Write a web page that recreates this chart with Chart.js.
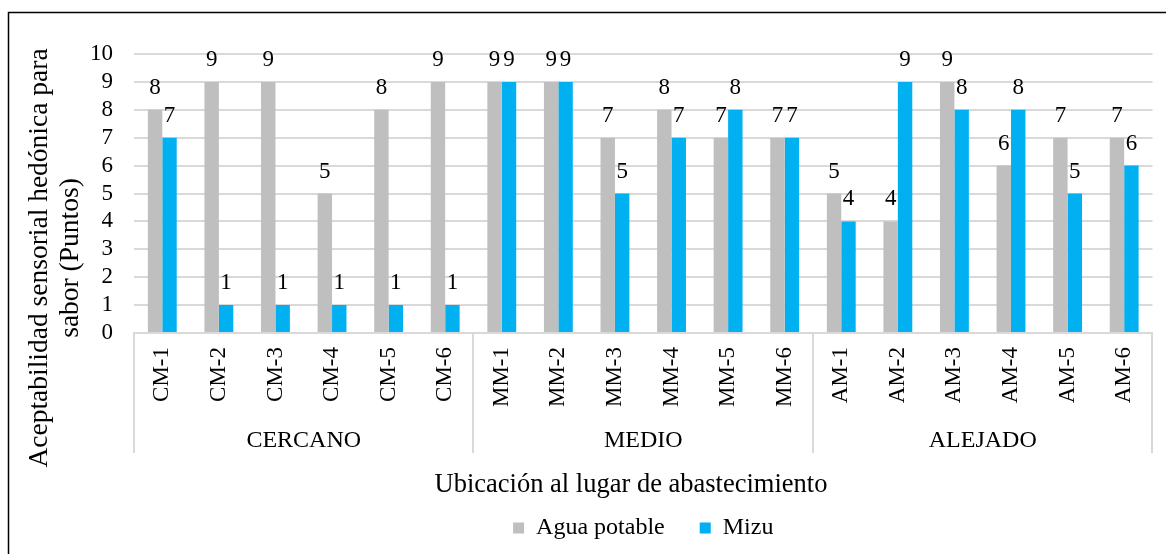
<!DOCTYPE html>
<html>
<head>
<meta charset="utf-8">
<script src="https://cdn.jsdelivr.net/npm/chart.js@4.4.0/dist/chart.umd.min.js"></script>
<style>
html, body { margin: 0; padding: 0; background: #fff; }
#wrap { width: 1166px; height: 554px; position: relative; }
</style>
</head>
<body>
<div id="wrap"><canvas id="chartSabor"></canvas></div>
<script>
const categories = ['CM-1', 'CM-2', 'CM-3', 'CM-4', 'CM-5', 'CM-6',
    'MM-1', 'MM-2', 'MM-3', 'MM-4', 'MM-5', 'MM-6',
    'AM-1', 'AM-2', 'AM-3', 'AM-4', 'AM-5', 'AM-6'];
const groupNames = ['CERCANO', 'MEDIO', 'ALEJADO'];
const groupCounts = [6, 6, 6];
const aguaPotable = [8, 9, 9, 5, 8, 9, 9, 9, 7, 8, 7, 7, 5, 4, 9, 6, 7, 7];
const mizu = [7, 1, 1, 1, 1, 1, 9, 9, 5, 7, 8, 7, 4, 9, 8, 8, 5, 6];
const seriesNames = ['Agua potable', 'Mizu'];
const yMin = 0, yMax = 10, yStep = 1;
const xTitle = 'Ubicación al lugar de abastecimiento';
const yTitleLines = ['Aceptabilidad sensorial hedónica para', 'sabor (Puntos)'];

const serif = '"Liberation Serif", "Times New Roman", serif';
const lineGray = '#d9d9d9';
Chart.defaults.font.family = serif;
Chart.defaults.color = '#000';

const decorPlugin = {
    id: 'decor',
    beforeDraw(chart) {
        const ctx = chart.ctx;
        ctx.save();
        ctx.fillStyle = '#fff';
        ctx.fillRect(0, 0, chart.width, chart.height);
        ctx.strokeStyle = '#000';
        ctx.lineWidth = 1.5;
        ctx.beginPath();
        ctx.moveTo(8.5, chart.height + 5);
        ctx.lineTo(8.5, 12.5);
        ctx.lineTo(chart.width + 5, 12.5);
        ctx.stroke();
        ctx.restore();
    },
    afterDatasetsDraw(chart) {
        const ctx = chart.ctx;
        ctx.save();
        ctx.font = '23px ' + serif;
        ctx.fillStyle = '#000';
        ctx.textAlign = 'center';
        ctx.textBaseline = 'alphabetic';
        chart.data.datasets.forEach((ds, di) => {
            const meta = chart.getDatasetMeta(di);
            meta.data.forEach((bar, i) => {
                ctx.fillText(String(ds.data[i]), bar.x, bar.y - 16);
            });
        });
        ctx.restore();
    },
    afterDraw(chart) {
        const ctx = chart.ctx;
        const area = chart.chartArea;
        const xs = chart.scales.x;
        const half = (xs.getPixelForValue(1) - xs.getPixelForValue(0)) / 2;
        ctx.save();
        // group separators and names
        let start = 0;
        const bounds = [area.left];
        groupCounts.forEach(n => {
            start += n;
            bounds.push(xs.getPixelForValue(start - 1) + half);
        });
        ctx.strokeStyle = lineGray;
        ctx.lineWidth = 2;
        bounds.forEach(bx => {
            const px = Math.round(bx);
            ctx.beginPath();
            ctx.moveTo(px, area.bottom);
            ctx.lineTo(px, 453);
            ctx.stroke();
        });
        ctx.fillStyle = '#000';
        ctx.textAlign = 'center';
        ctx.textBaseline = 'alphabetic';
        ctx.font = '24px ' + serif;
        groupNames.forEach((g, i) => {
            ctx.fillText(g, (bounds[i] + bounds[i + 1]) / 2, 447);
        });
        // axis titles
        ctx.font = '26.5px ' + serif;
        ctx.fillText(xTitle, 631, 492);
        ctx.font = '27.5px ' + serif;
        ctx.translate(0, 258);
        ctx.rotate(-Math.PI / 2);
        ctx.fillText(yTitleLines[0], 0, 47);
        ctx.fillText(yTitleLines[1], 0, 78);
        ctx.restore();
    }
};

const ctx = document.getElementById('chartSabor').getContext('2d');
const chartSabor = new Chart(ctx, {
    type: 'bar',
    data: {
        labels: categories,
        datasets: [{
            label: seriesNames[0],
            data: aguaPotable,
            backgroundColor: '#bfbfbf',
            borderWidth: 0,
            categoryPercentage: 0.51,
            barPercentage: 1.0
        }, {
            label: seriesNames[1],
            data: mizu,
            backgroundColor: '#00b0f0',
            borderWidth: 0,
            categoryPercentage: 0.51,
            barPercentage: 1.0
        }]
    },
    options: {
        responsive: true,
        maintainAspectRatio: false,
        animation: false,
        devicePixelRatio: 1,
        layout: {
            padding: { top: 54, right: 8, bottom: 4, left: 0 }
        },
        plugins: {
            tooltip: { enabled: false },
            legend: {
                position: 'bottom',
                fullSize: false,
                labels: {
                    boxWidth: 11,
                    boxHeight: 11,
                    padding: 35,
                    color: '#000',
                    font: { family: serif, size: 24 }
                }
            }
        },
        scales: {
            x: {
                grid: { display: false, drawTicks: false },
                border: { display: true, color: lineGray, width: 2 },
                ticks: {
                    autoSkip: false,
                    minRotation: 90,
                    maxRotation: 90,
                    padding: 14,
                    color: '#000',
                    font: { family: serif, size: 23 }
                },
                afterFit(scale) { scale.height = 148; }
            },
            y: {
                min: yMin,
                max: yMax,
                ticks: {
                    stepSize: yStep,
                    autoSkip: false,
                    padding: 21,
                    color: '#000',
                    font: { family: serif, size: 23, lineHeight: 1 }
                },
                grid: { color: lineGray, lineWidth: 2, drawTicks: false },
                border: { display: false },
                afterFit(scale) { scale.width = 134; }
            }
        }
    },
    plugins: [decorPlugin]
});
</script>
</body>
</html>
